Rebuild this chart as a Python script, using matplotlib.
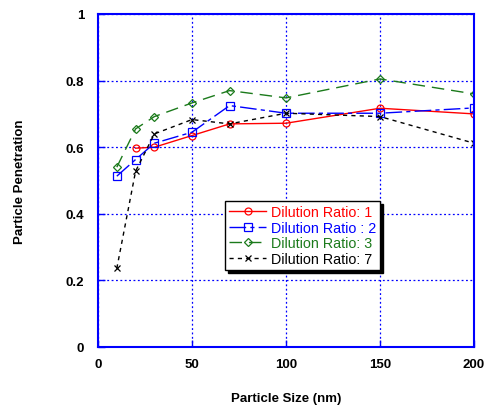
import matplotlib
matplotlib.use("Agg")
import matplotlib.pyplot as plt

plt.rcParams['font.family'] = ['Liberation Sans', 'DejaVu Sans']

x_all = [10, 20, 30, 50, 70, 100, 150, 200]
x_red = [20, 30, 50, 70, 100, 150, 200]
y_red = [0.597, 0.600, 0.635, 0.670, 0.672, 0.717, 0.700]
y_blue = [0.513, 0.563, 0.612, 0.645, 0.725, 0.702, 0.702, 0.718]
y_green = [0.540, 0.655, 0.692, 0.733, 0.770, 0.748, 0.805, 0.760]
y_black = [0.236, 0.528, 0.640, 0.683, 0.670, 0.702, 0.692, 0.612]

labels = ["Dilution Ratio: 1", "Dilution Ratio : 2", "Dilution Ratio: 3", "Dilution Ratio: 7"]
xticks = [0, 50, 100, 150, 200]
yticks = [0, 0.2, 0.4, 0.6, 0.8, 1]
ytick_labels = ["0", "0.2", "0.4", "0.6", "0.8", "1"]

fig = plt.figure(figsize=(4.87, 4.06), dpi=100)
ax = fig.add_axes([98/487, 1 - 348/406, (474-98)/487, (348-15)/406])

blue = '#0000ff'
green = '#1b7a1b'
ax.plot(x_red, y_red, color='red', lw=1, ls='-', marker='o', ms=5, mfc='none', mec='red', mew=0.9, label=labels[0])
ax.plot(x_all, y_blue, color=blue, lw=1, ls=(0, (12, 3, 3, 3)), marker='s', ms=6, mfc='none', mec=blue, mew=0.9, label=labels[1])
ax.plot(x_all, y_green, color=green, lw=1, ls=(0, (9, 5)), marker='D', ms=4, mfc='none', mec=green, mew=0.9, label=labels[2])
ax.plot(x_all, y_black, color='black', lw=1, ls=(0, (3, 3)), marker='x', ms=5, mew=0.9, label=labels[3])

ax.set_xlim(0, 200)
ax.set_ylim(0, 1)
ax.set_xticks(xticks)
ax.set_yticks(yticks)
ax.set_yticklabels(ytick_labels)
ax.grid(True, color=blue, ls=(0, (1.5, 2)), lw=0.9)
for s in ax.spines.values():
    s.set_color(blue)
    s.set_linewidth(1.5)
ax.tick_params(direction='in', colors=blue, length=5, width=1, labelcolor='black', labelsize=9.5)
ax.tick_params(axis='x', pad=8)
ax.tick_params(axis='y', pad=10)
for t in ax.get_xticklabels() + ax.get_yticklabels():
    t.set_fontweight('bold')
ax.set_xlabel('Particle Size (nm)', fontsize=9.5, fontweight='bold')
ax.set_ylabel('Particle Penetration', fontsize=9.5, fontweight='bold')
ax.xaxis.set_label_coords(0.5, -(399 - 348) / 333)
ax.xaxis.label.set_va('center')
ax.yaxis.set_label_coords(-(98 - 20) / 376, 0.5)
ax.yaxis.label.set_va('center')

leg = ax.legend(loc='upper left', bbox_to_anchor=((225-98)/376, (348-202)/333), fontsize=10.3,
                frameon=True, fancybox=False, shadow={'color': 'black', 'alpha': 1}, edgecolor='black',
                handlelength=2.6, handletextpad=0.3, borderpad=0.3, labelspacing=0.1, borderaxespad=0)
leg.get_frame().set_linewidth(1)
for txt, c in zip(leg.get_texts(), ['red', blue, green, 'black']):
    txt.set_color(c)

fig.savefig('out.png', dpi=100)
